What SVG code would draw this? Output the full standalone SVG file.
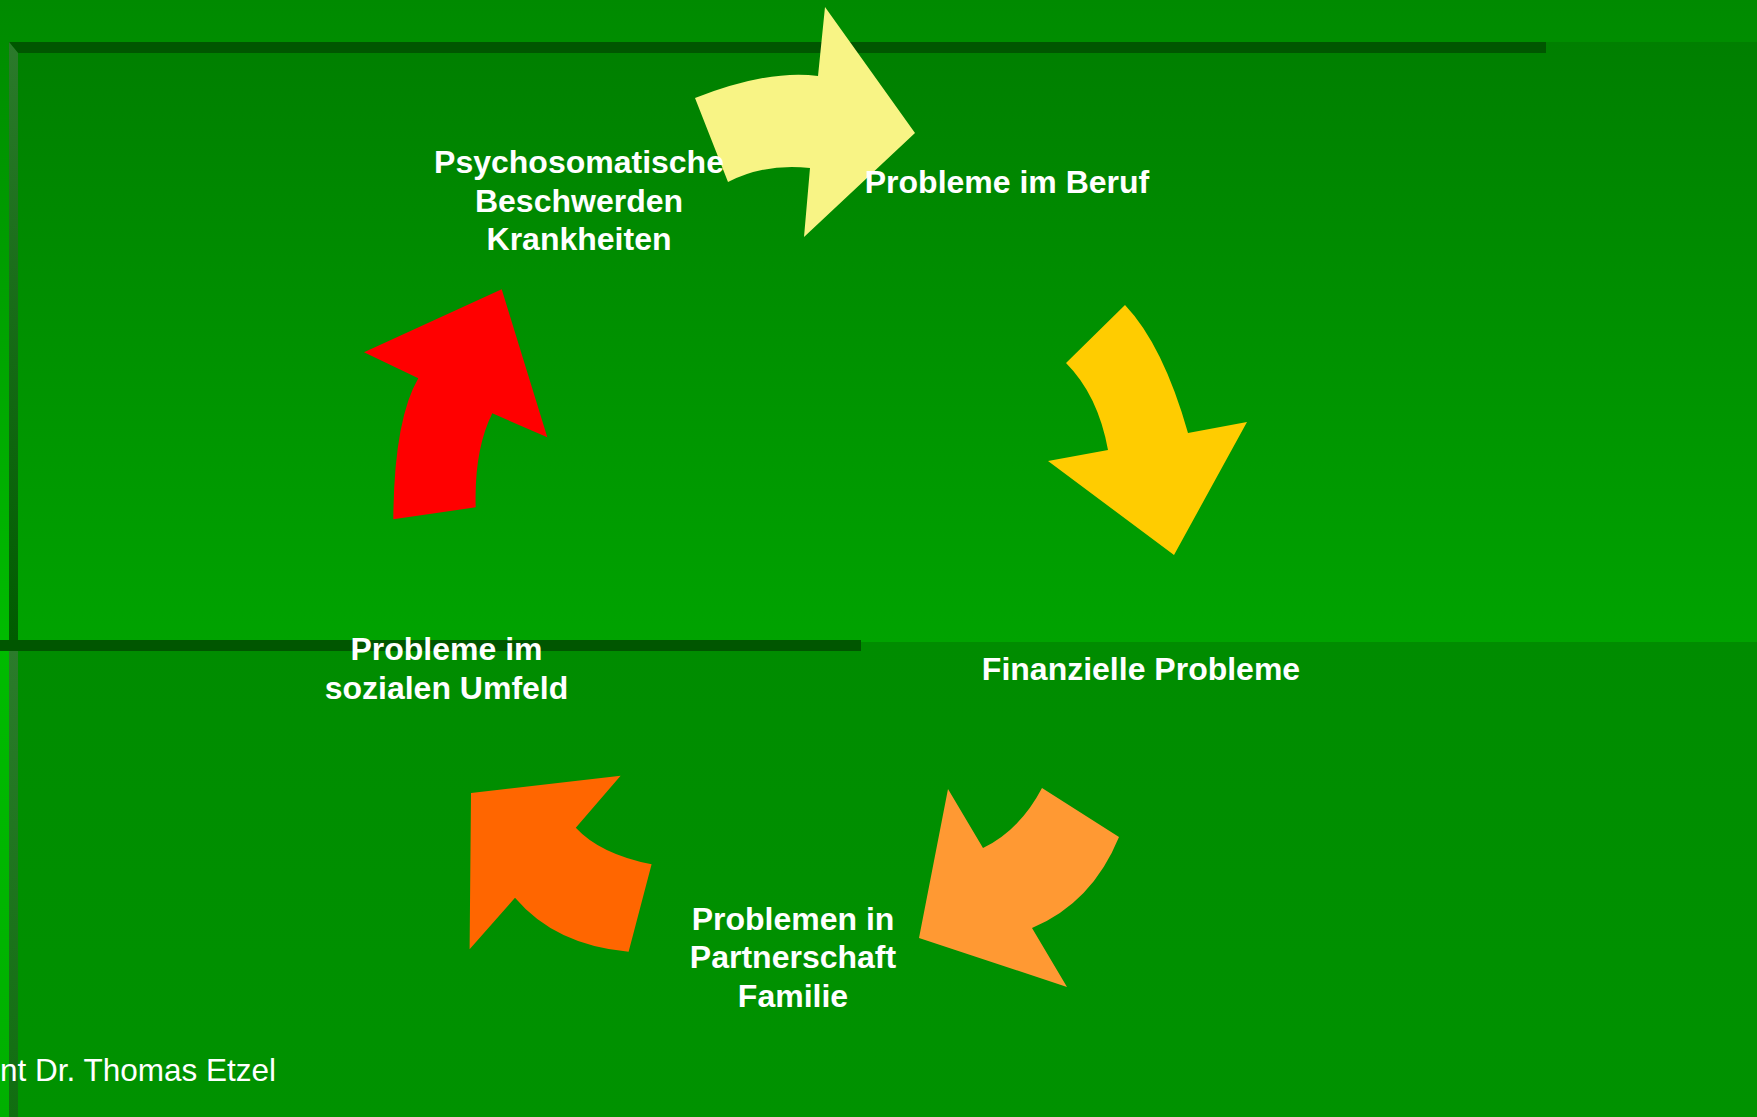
<svg xmlns="http://www.w3.org/2000/svg" width="1757" height="1117" viewBox="0 0 1757 1117">
  <defs>
    <linearGradient id="bgOuter" x1="0" y1="0" x2="0" y2="1117" gradientUnits="userSpaceOnUse">
      <stop offset="0" stop-color="#008a00"/>
      <stop offset="0.57" stop-color="#00bb00"/>
      <stop offset="1" stop-color="#00b000"/>
    </linearGradient>
    <linearGradient id="panelTop" x1="0" y1="42" x2="0" y2="642" gradientUnits="userSpaceOnUse">
      <stop offset="0" stop-color="#007f00"/>
      <stop offset="1" stop-color="#00a300"/>
    </linearGradient>
    <linearGradient id="panelBottom" x1="0" y1="642" x2="0" y2="1117" gradientUnits="userSpaceOnUse">
      <stop offset="0" stop-color="#008c00"/>
      <stop offset="1" stop-color="#009200"/>
    </linearGradient>
    <linearGradient id="bandTop" x1="0" y1="42" x2="0" y2="640" gradientUnits="userSpaceOnUse">
      <stop offset="0" stop-color="#2b7a2b"/>
      <stop offset="1" stop-color="#005c00"/>
    </linearGradient>
    <linearGradient id="bandBottom" x1="0" y1="651" x2="0" y2="1117" gradientUnits="userSpaceOnUse">
      <stop offset="0" stop-color="#2b7b2b"/>
      <stop offset="1" stop-color="#106e10"/>
    </linearGradient>
  </defs>
  <style>
    .lbl { font-family: "Liberation Sans", Arial, sans-serif; font-weight: bold; font-size: 32px; fill: #ffffff; text-anchor: middle; }
    .foot { font-family: "Liberation Sans", Arial, sans-serif; font-size: 31.5px; fill: #ffffff; }
    .dark { fill: #005600; }
  </style>

  <g id="background">
    <rect x="0" y="0" width="1757" height="1117" fill="url(#bgOuter)"/>
    <rect x="9" y="42" width="1748" height="600" fill="url(#panelTop)"/>
    <rect x="9" y="642" width="1748" height="475" fill="url(#panelBottom)"/>
    <polygon class="dark" points="9,42 1546,42 1546,53 18,53"/>
    <polygon points="9,42 18,53 18,640 9,640" fill="url(#bandTop)"/>
    <rect x="9" y="651" width="9" height="466" fill="url(#bandBottom)"/>
    <rect class="dark" x="0" y="640" width="861" height="11"/>
  </g>

  <g id="connectors">
    <path id="arrow-yellow" fill="#f8f485" d="M695,98 Q770,69 818,76 L825,7 L915,133 L804,237 L810,168 Q765,163 728,182 Z"/>
    <path id="arrow-gold" fill="#ffcc00" d="M1125,305 Q1163,345 1188,433 L1247,422 L1174,555 L1048,461 L1108,450 Q1098,395 1066,363 Z"/>
    <path id="arrow-lightorange" fill="#ff9933" d="M919,938 L948,789 L983,848 Q1020,830 1042,788 L1119,837 Q1092,903 1032,928 L1067,987 Z"/>
    <path id="arrow-orange" fill="#ff6600" d="M471,793 L620.6,775.7 L575.8,827.7 Q600,854 651.6,864.3 L628.6,951.7 Q555,945 515,897.7 L469.6,949.3 Z"/>
    <path id="arrow-red" fill="#ff0000" d="M393.3,519.3 L475.7,507.3 Q474,450 492.3,413.3 L547.3,437.3 L501.7,289.3 L364,352.3 L418.3,378.3 Q394,420 393.3,519.3 Z"/>
  </g>

  <g id="node-psychosomatische">
    <text class="lbl" x="579" y="173">Psychosomatische</text>
    <text class="lbl" x="579" y="211.5">Beschwerden</text>
    <text class="lbl" x="579" y="250">Krankheiten</text>
  </g>
  <g id="node-beruf">
    <text class="lbl" x="1007" y="193">Probleme im Beruf</text>
  </g>
  <g id="node-finanzielle">
    <text class="lbl" x="1141" y="680">Finanzielle Probleme</text>
  </g>
  <g id="node-partnerschaft">
    <text class="lbl" x="793" y="929.5">Problemen in</text>
    <text class="lbl" x="793" y="968">Partnerschaft</text>
    <text class="lbl" x="793" y="1006.5">Familie</text>
  </g>
  <g id="node-sozial">
    <text class="lbl" x="446.5" y="660">Probleme im</text>
    <text class="lbl" x="446.5" y="698.5">sozialen Umfeld</text>
  </g>
  <g id="footer">
    <text class="foot" x="0" y="1081">nt Dr. Thomas Etzel</text>
  </g>
</svg>
